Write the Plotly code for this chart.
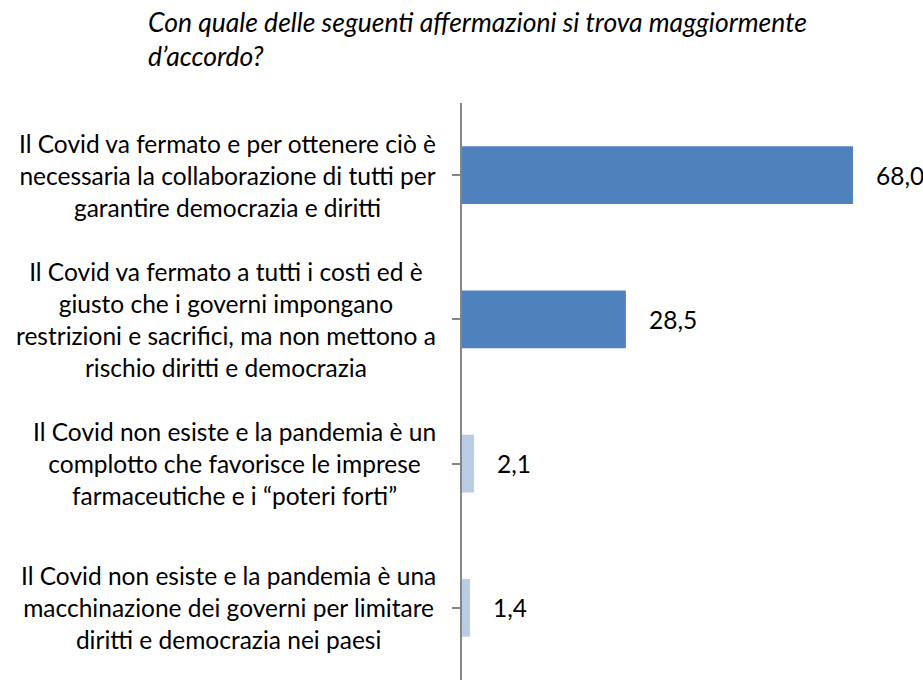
import plotly.graph_objects as go

categories = [
    "Il Covid va fermato e per ottenere ciò è<br>necessaria la collaborazione di tutti per<br>garantire democrazia e diritti",
    "Il Covid va fermato a tutti i costi ed è<br>giusto che i governi impongano<br>restrizioni e sacrifici, ma non mettono a<br>rischio diritti e democrazia",
    "Il Covid non esiste e la pandemia è un<br>complotto che favorisce le imprese<br>farmaceutiche e i “poteri forti”",
    "Il Covid non esiste e la pandemia è una<br>macchinazione dei governi per limitare<br>diritti e democrazia nei paesi",
]
values = [68.0, 28.5, 2.1, 1.4]
bar_colors = ["#4F81BD", "#4F81BD", "#B9CDE5", "#B9CDE5"]
title_text = "Con quale delle seguenti affermazioni si trova maggiormente<br>d’accordo?"

FONT = "Lato"

W, H = 923, 681
ML, MR, MT, MB = 462, 1, 103, 1

fig = go.Figure()
fig.add_trace(go.Bar(
    x=values,
    y=list(range(len(categories))),
    orientation="h",
    marker=dict(color=bar_colors, line=dict(width=0)),
    hoverinfo="skip",
))

annotations = []
for i, (cat, v) in enumerate(zip(categories, values)):
    annotations.append(dict(
        x=0, y=i, xref="x", yref="y", text=cat, showarrow=False,
        xanchor="right", yanchor="middle", align="center", xshift=-24,
        font=dict(family=FONT, size=24.5, color="#000000"),
    ))
    annotations.append(dict(
        x=v, y=i, xref="x", yref="y", text=f"{v:.1f}".replace(".", ","),
        showarrow=False, xanchor="left", yanchor="middle", xshift=21,
        font=dict(family=FONT, size=24.5, color="#000000"),
    ))

pw = W - ML - MR
ph = H - MT - MB
annotations.append(dict(
    x=(146 - ML) / pw, y=(H - MB - 4) / ph, xref="paper", yref="paper",
    text=title_text, showarrow=False, xanchor="left", yanchor="top", align="left",
    font=dict(family=FONT, size=26.5, color="#000000", style="italic"),
))

fig.update_layout(
    width=W, height=H,
    margin=dict(l=ML, r=MR, t=MT, b=MB),
    paper_bgcolor="white", plot_bgcolor="white",
    bargap=0.6,
    showlegend=False,
    xaxis=dict(range=[0, 80], visible=False),
    yaxis=dict(
        range=[len(categories) - 0.5, -0.5],
        tickmode="array", tickvals=list(range(len(categories))),
        showticklabels=False, ticks="outside", ticklen=8, tickwidth=2,
        tickcolor="#868686", tickson="boundaries",
        showline=True, linecolor="#868686", linewidth=2,
        showgrid=False, zeroline=False,
    ),
    annotations=annotations,
)

fig.write_html(
    "out.html",
    config={"displayModeBar": False},
    post_script="document.body.style.margin='0';document.body.style.overflow='hidden';",
)
